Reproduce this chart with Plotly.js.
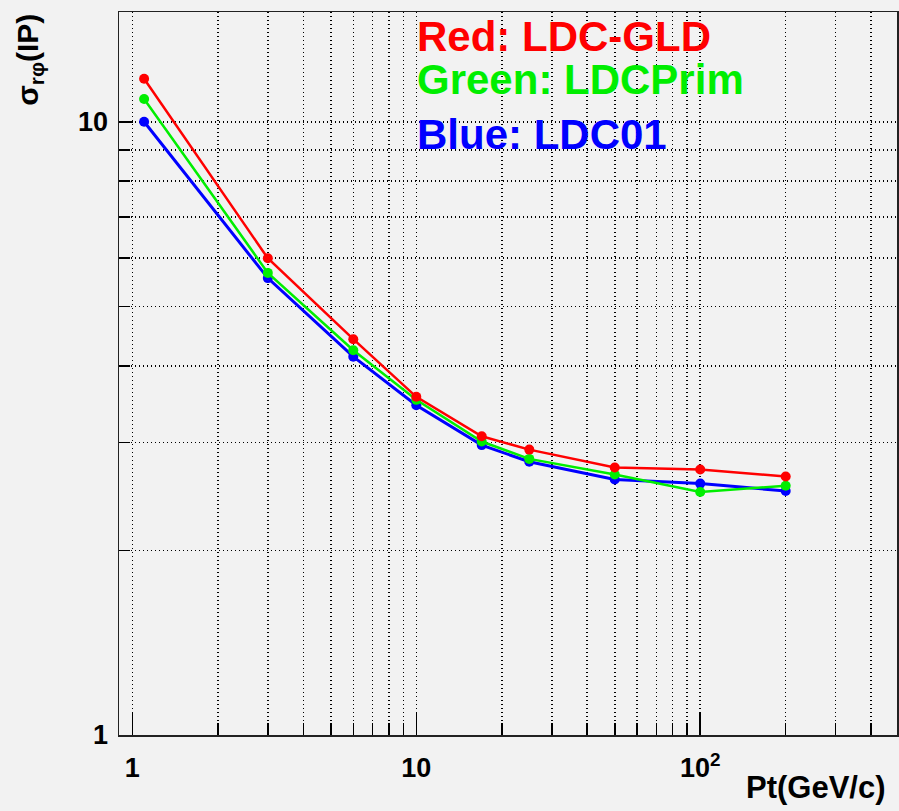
<!DOCTYPE html>
<html>
<head>
<meta charset="utf-8">
<script src="https://cdn.plot.ly/plotly-3.0.1.min.js"></script>
<style>html,body{margin:0;padding:0;background:#f2f2f2;}#chart{width:899px;height:811px;}</style>
</head>
<body>
<div id="chart"></div>
<script>
// Data
var pt = [1.1, 3, 6, 10, 17, 25, 50, 100, 200];
var redVals   = [11.75, 5.99, 4.42, 3.56, 3.07, 2.92, 2.73, 2.71, 2.64];
var greenVals = [10.89, 5.67, 4.24, 3.52, 3.01, 2.82, 2.66, 2.49, 2.55];
var blueVals  = [10.0, 5.56, 4.14, 3.45, 2.97, 2.79, 2.61, 2.57, 2.50];

var xMajor = [1, 10, 100];
var xMajorText = ['1', '10', '10<sup>2</sup>'];
var xMinor = [2,3,4,5,6,7,8,9,20,30,40,50,60,70,80,90,200,300,400];
var yMajor = [1, 10];
var yMajorText = ['1', '10'];
var yMinor = [2,3,4,5,6,7,8,9];

var legendTexts = ['Red: LDC-GLD', 'Green: LDCPrim', 'Blue: LDC01'];
var colors = {red: '#ff0000', green: '#00ee00', blue: '#0000ff'};

var font = 'Liberation Sans, Arial, Helvetica, sans-serif';

function tr(y, c, w) {
  return {x: pt, y: y, type: 'scatter', mode: 'lines+markers',
    line: {color: c, width: w}, marker: {color: c, size: 10, symbol: 'circle'},
    showlegend: false, hoverinfo: 'skip'};
}
var data = [tr(blueVals, colors.blue, 3), tr(greenVals, colors.green, 2.5), tr(redVals, colors.red, 2.5)];

var dotDash = '1px,3px';

var layout = {
  width: 899, height: 811,
  paper_bgcolor: '#f2f2f2', plot_bgcolor: '#f2f2f2',
  margin: {l: 119, r: 2, t: 12, b: 76},
  xaxis: {
    type: 'log', range: [-0.047, 2.693],
    tickmode: 'array', tickvals: xMajor, ticktext: xMajorText,
    ticks: 'inside', ticklen: 22, tickcolor: '#000', tickwidth: 1.5,
    tickfont: {family: font, size: 27, weight: 'bold', color: '#000'},
    ticklabelstandoff: 8,
    showline: true, mirror: true, linecolor: '#222', linewidth: 1.5,
    zeroline: false,
    showgrid: true, gridcolor: '#000', griddash: dotDash, gridwidth: 1.5,
    minor: {tickmode: 'array', tickvals: xMinor, ticks: 'inside', ticklen: 12,
      tickcolor: '#000', tickwidth: 1.5, showgrid: true, gridcolor: '#000', griddash: dotDash, gridwidth: 1.5}
  },
  yaxis: {
    type: 'log', range: [0, 1.179],
    tickmode: 'array', tickvals: yMajor, ticktext: yMajorText,
    ticks: 'inside', ticklen: 14, tickcolor: '#000', tickwidth: 1.5,
    tickfont: {family: font, size: 27, weight: 'bold', color: '#000'},
    ticklabelstandoff: 4,
    showline: true, mirror: true, linecolor: '#222', linewidth: 1.5,
    zeroline: false,
    showgrid: true, gridcolor: '#000', griddash: dotDash, gridwidth: 1.5,
    minor: {tickmode: 'array', tickvals: yMinor, ticks: 'inside', ticklen: 11,
      tickcolor: '#000', tickwidth: 1.5, showgrid: true, gridcolor: '#000', griddash: dotDash, gridwidth: 1.5}
  },
  annotations: [
    {xref: 'paper', yref: 'paper', x: 0.381, y: 0.966, xanchor: 'left', yanchor: 'middle',
     text: legendTexts[0], showarrow: false, font: {family: font, size: 42, weight: 'bold', color: colors.red}},
    {xref: 'paper', yref: 'paper', x: 0.381, y: 0.906, xanchor: 'left', yanchor: 'middle',
     text: legendTexts[1], showarrow: false, font: {family: font, size: 42, weight: 'bold', color: colors.green}},
    {xref: 'paper', yref: 'paper', x: 0.381, y: 0.831, xanchor: 'left', yanchor: 'middle',
     text: legendTexts[2], showarrow: false, font: {family: font, size: 42, weight: 'bold', color: colors.blue}},
    {xref: 'paper', yref: 'paper', x: -0.116, y: 1.0, xanchor: 'center', yanchor: 'top', textangle: -90,
     text: 'σ<sub>rφ</sub>(IP)', showarrow: false, font: {family: font, size: 30, weight: 'bold', color: '#000'}},
    {xref: 'paper', yref: 'paper', x: 0.989, y: -0.072, xanchor: 'right', yanchor: 'middle',
     text: 'Pt(GeV/c)', showarrow: false, font: {family: font, size: 31, weight: 'bold', color: '#000'}}
  ]
};

Plotly.newPlot('chart', data, layout, {staticPlot: true, displayModeBar: false});
</script>
</body>
</html>
